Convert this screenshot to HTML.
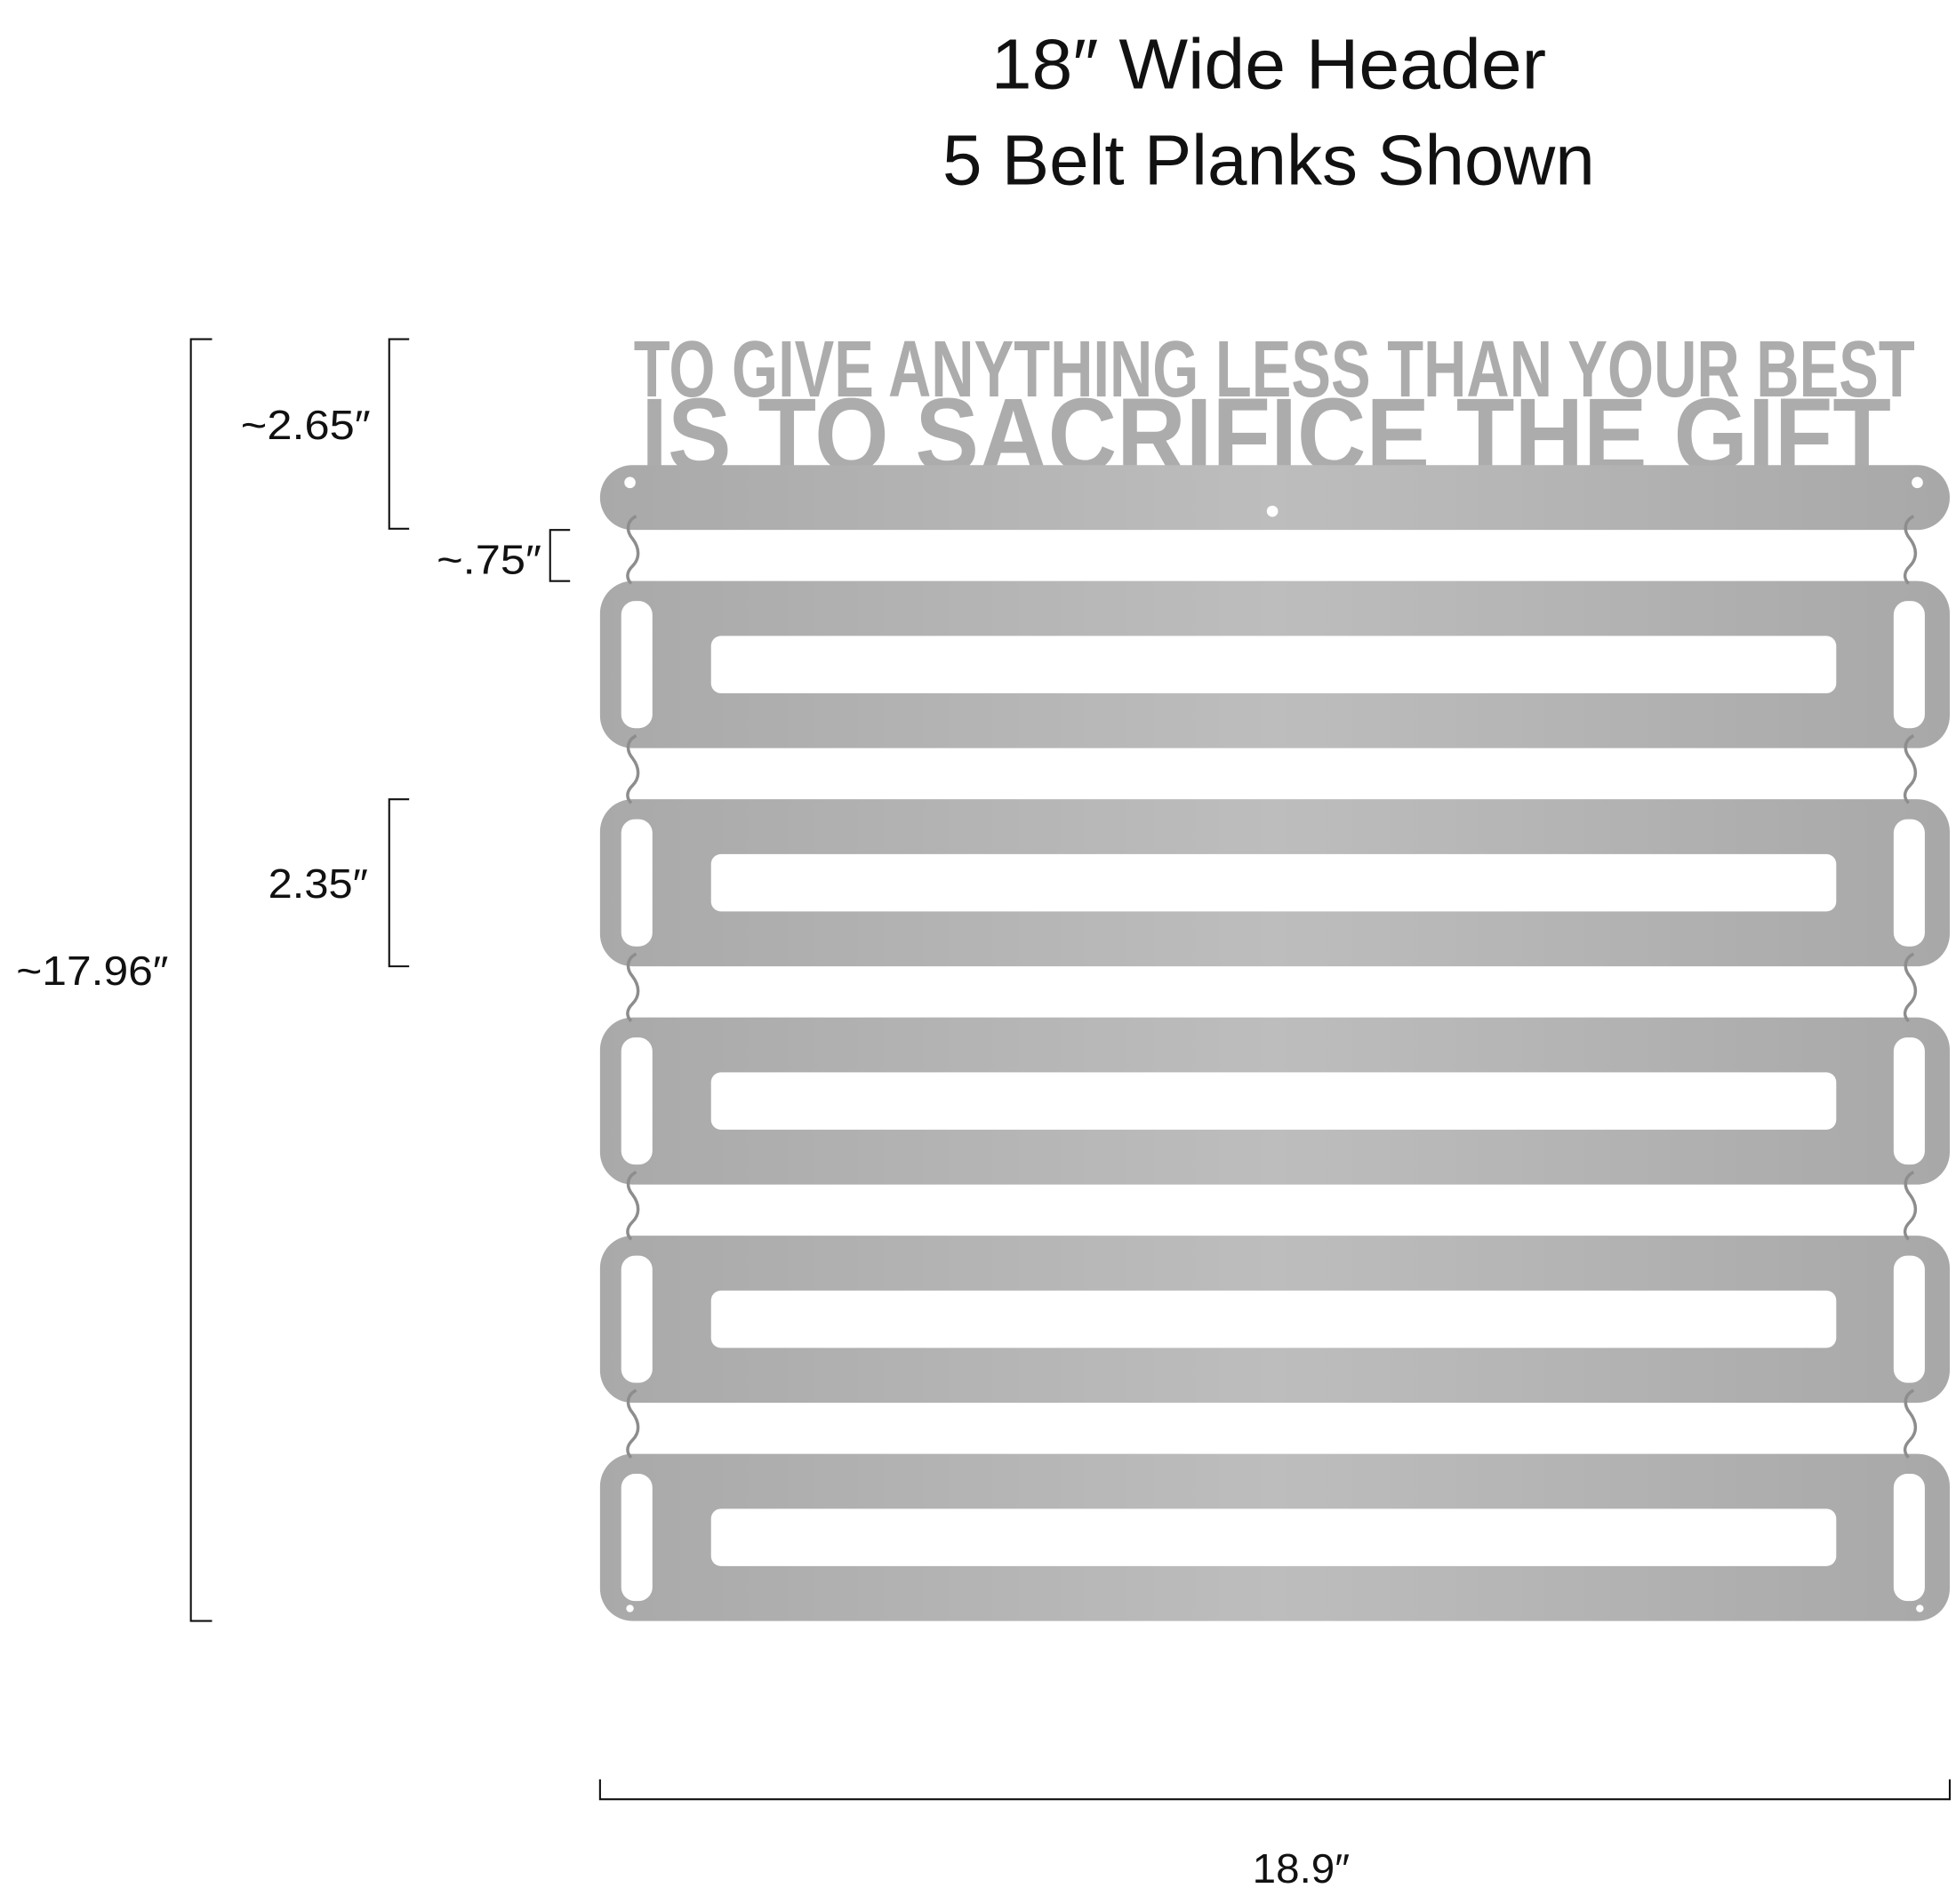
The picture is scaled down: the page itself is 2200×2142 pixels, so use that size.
<!DOCTYPE html>
<html><head><meta charset="utf-8"><style>
html,body{margin:0;padding:0;background:#fff}
svg{display:block}
</style></head><body>
<svg width="2200" height="2142" viewBox="0 0 1568 1527" preserveAspectRatio="none" xmlns="http://www.w3.org/2000/svg">
<defs>
<linearGradient id="m" x1="0" x2="1" y1="0" y2="0">
<stop offset="0" stop-color="#a9a9a9"/><stop offset="0.5" stop-color="#bdbdbd"/><stop offset="1" stop-color="#a8a8a8"/>
</linearGradient>
<g id="plank">
<rect x="481" y="0" width="1082" height="134" rx="26" fill="url(#m)"/>
<rect x="570" y="44" width="902" height="46" rx="8" fill="#fff"/>
<rect x="498" y="16" width="25" height="102" rx="11" fill="#fff"/>
<rect x="1518" y="16" width="25" height="102" rx="11" fill="#fff"/>
</g>
<g id="hooks" fill="none" stroke="#8d8d8d" stroke-width="2.5">
<path d="M510,0 c-8,4 -8,12 -3,18 c6,8 6,16 0,22 c-5,5 -5,10 -1,14"/>
<path d="M1534,0 c-8,4 -8,12 -3,18 c6,8 6,16 0,22 c-5,5 -5,10 -1,14"/>
</g>
</defs>
<g font-family="Liberation Sans, sans-serif" fill="#111" text-anchor="middle">
<text x="1017" y="71" font-size="57" textLength="445" lengthAdjust="spacingAndGlyphs">18″  Wide Header</text>
<text x="1017" y="148" font-size="57" textLength="523" lengthAdjust="spacingAndGlyphs">5 Belt Planks Shown</text>
<text x="245" y="352" font-size="33" textLength="104" lengthAdjust="spacingAndGlyphs">~2.65″</text>
<text x="392" y="460" font-size="33" textLength="84" lengthAdjust="spacingAndGlyphs">~.75″</text>
<text x="255" y="720" font-size="33" textLength="80" lengthAdjust="spacingAndGlyphs">2.35″</text>
<text x="74" y="790" font-size="33" textLength="122" lengthAdjust="spacingAndGlyphs">~17.96″</text>
<text x="1043" y="1510" font-size="33" textLength="78" lengthAdjust="spacingAndGlyphs">18.9″</text>
</g>
<g fill="none" stroke="#111" stroke-width="1.5">
<path d="M170,272 H153 V1300 H170"/>
<path d="M328,272 H312 V424 H328"/>
<path d="M457,425 H441 V466 H457"/>
<path d="M328,641 H312 V775 H328"/>
<path d="M481,1427 V1443 H1563 V1427"/>
</g>
<g font-family="Liberation Sans Narrow, Liberation Sans, sans-serif" font-weight="bold" fill="#acacac">
<text x="508" y="318" font-size="64" textLength="1027" lengthAdjust="spacingAndGlyphs">TO GIVE ANYTHING LESS THAN YOUR BEST</text>
<text x="514" y="378" font-size="84" textLength="1002" lengthAdjust="spacingAndGlyphs">IS TO SACRIFICE THE GIFT</text>
</g>
<rect x="481" y="373" width="1082" height="52" rx="26" fill="url(#m)"/>
<circle cx="505" cy="387" r="4.5" fill="#fff"/>
<circle cx="1537" cy="387" r="4.5" fill="#fff"/>
<circle cx="1020" cy="410" r="4.5" fill="#fff"/>
<use href="#plank" y="466"/>
<use href="#plank" y="641"/>
<use href="#plank" y="816"/>
<use href="#plank" y="991"/>
<use href="#plank" y="1166"/>
<circle cx="505" cy="1290" r="3" fill="#fff"/>
<circle cx="1539" cy="1290" r="3" fill="#fff"/>
<use href="#hooks" y="414"/>
<use href="#hooks" y="590"/>
<use href="#hooks" y="765"/>
<use href="#hooks" y="940"/>
<use href="#hooks" y="1115"/>
</svg>
</body></html>
